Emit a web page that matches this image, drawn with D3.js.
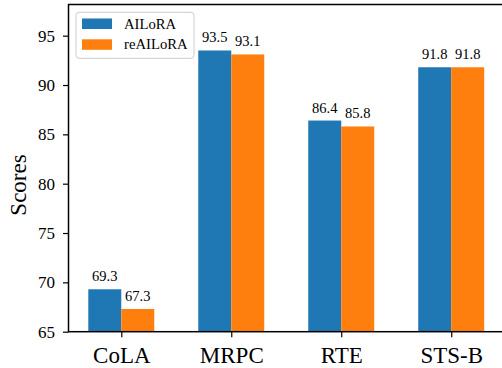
<!DOCTYPE html>
<html><head><meta charset="utf-8">
<script src="https://cdn.jsdelivr.net/npm/d3@7"></script>
<style>body{margin:0;background:#fff}svg{display:block}svg text{font-family:"Liberation Serif","Times New Roman",serif !important}</style>
</head><body>
<script>
const categories = ["CoLA", "MRPC", "RTE", "STS-B"];
const seriesNames = ["AILoRA", "reAILoRA"];
const ailora = [69.3, 93.5, 86.4, 91.8];
const reailora = [67.3, 93.1, 85.8, 91.8];
const yTicks = [65, 70, 75, 80, 85, 90, 95];
const colors = ["#1f77b4", "#ff7f0e"];

(function () {
const W = 502, H = 368;
const pL = 68.5, pR = 504, pT = 4.5, pB = 331.7;
const svg = d3.select("body").append("svg").attr("width", W).attr("height", H);

const x = d3.scaleLinear().domain([-0.48, 3.48]).range([pL, pR]);
const y = d3.scaleLinear().domain([65, 98.16]).range([pB, pT]);
const bw = 0.3;
const series = [ailora, reailora];

series.forEach((vals, si) => {
  const g = svg.append("g");
  g.selectAll("rect").data(vals).join("rect")
    .attr("x", (d, i) => x(i + (si === 0 ? -bw : 0)))
    .attr("width", x(bw) - x(0))
    .attr("y", d => y(d))
    .attr("height", d => y(65) - y(d))
    .attr("fill", colors[si]);
  g.selectAll("text").data(vals).join("text")
    .attr("x", (d, i) => x(i + (si === 0 ? -bw / 2 : bw / 2)))
    .attr("y", d => y(d) - 8)
    .attr("text-anchor", "middle")
    .attr("font-size", 14.5)
    .attr("fill", "#000")
    .text(d => d.toFixed(1));
});

const yAxis = d3.axisLeft(y).tickValues(yTicks).tickSize(5.5).tickPadding(8).tickFormat(d3.format("d"));
const ya = svg.append("g").attr("transform", `translate(${pL},0)`).call(yAxis);
ya.attr("font-family", null);
ya.select(".domain").remove();
ya.selectAll("line").attr("stroke", "#000").attr("stroke-width", 1.2);
ya.selectAll("text").attr("font-size", 17).attr("fill", "#000");

const xAxis = d3.axisBottom(x).tickValues(d3.range(categories.length)).tickSize(5.5).tickPadding(8).tickFormat(i => categories[i]);
const xa = svg.append("g").attr("transform", `translate(0,${pB})`).call(xAxis);
xa.attr("font-family", null);
xa.select(".domain").remove();
xa.selectAll("line").attr("stroke", "#000").attr("stroke-width", 1.2);
xa.selectAll("text").attr("font-size", 23).attr("fill", "#000").attr("dy", "0.78em");

svg.append("rect").attr("x", pL).attr("y", pT).attr("width", pR - pL).attr("height", pB - pT)
  .attr("fill", "none").attr("stroke", "#000").attr("stroke-width", 1.5);

svg.append("text").attr("transform", "translate(26,185) rotate(-90)")
  .attr("text-anchor", "middle").attr("font-size", 23).attr("fill", "#000").text("Scores");

const lg = svg.append("g");
lg.append("rect").attr("x", 76).attr("y", 12.3).attr("width", 118).attr("height", 46).attr("rx", 3)
  .attr("fill", "#fff").attr("fill-opacity", 0.8).attr("stroke", "#cccccc").attr("stroke-width", 1);
seriesNames.forEach((n, i) => {
  lg.append("rect").attr("x", 82).attr("y", 18.5 + i * 20.8).attr("width", 30).attr("height", 10.5).attr("fill", colors[i]);
  lg.append("text").attr("x", 124).attr("y", 28.5 + i * 20.8).attr("font-size", 14.7).attr("fill", "#000").text(n);
});
})();
</script>
</body></html>
